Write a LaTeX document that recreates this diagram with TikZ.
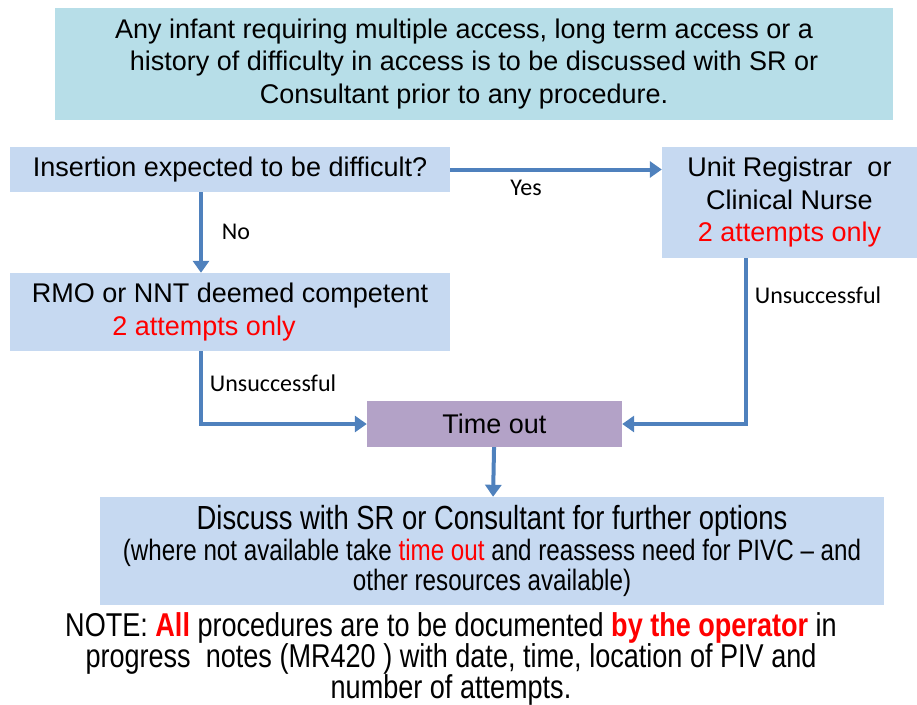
\documentclass[tikz,border=0pt]{standalone}
\usepackage{fontspec}
\setmainfont{Liberation Sans}
\newfontfamily\labelfont{Carlito}
\newfontfamily\narrowfont[FakeStretch=0.82]{Liberation Sans}
\usetikzlibrary{arrows.meta}
\definecolor{boxblue}{HTML}{C6D9F1}
\definecolor{boxaqua}{HTML}{B7DEE8}
\definecolor{boxpurple}{HTML}{B3A2C7}
\definecolor{arrowblue}{HTML}{4F81BD}
\definecolor{notered}{HTML}{FF0000}

\begin{document}
\begin{tikzpicture}[
    x=1pt, y=-1pt,
    box/.style={rectangle, fill=boxblue, inner sep=0pt, align=center,
        font=\fontsize{27}{32.5}\selectfont},
    arrow/.style={-{Triangle[width=16pt,length=12pt]}, line width=4pt, arrowblue},
    lbl/.style={font=\labelfont\fontsize{24}{28}\selectfont, inner sep=0pt}
]
\useasboundingbox (0,0) rectangle (917,704);

% Nodes
\node (intro) [box, fill=boxaqua, minimum width=838, minimum height=112] at (474,64)
    {Any infant requiring multiple access, long term access or a\hspace*{20pt}\\
    history of difficulty in access is to be discussed with SR or\\
    Consultant prior to any procedure.\hspace*{20pt}};

\node (insert) [box, minimum width=440, minimum height=45] at (230,169.5)
    {Insertion expected to be difficult?};

\node (unit) [box, minimum width=255, minimum height=111] at (789.5,202.5)
    {Unit Registrar~~or\\Clinical Nurse\\\textcolor{notered}{2 attempts only}};

\node (rmo) [box, minimum width=440, minimum height=78] at (230,312)
    {RMO or NNT deemed competent\\
    \textcolor{notered}{2 attempts only}\hspace*{52pt}};

\node (tout) [box, fill=boxpurple, minimum width=255, minimum height=46] at (494.5,424)
    {Time out};

\node (discuss) [box, minimum width=784, minimum height=108, font=\narrowfont\fontsize{29.5}{30.5}\selectfont] at (492,551)
    {{\fontsize{33.4}{30.5}\selectfont Discuss with SR or Consultant for further options}\\
    (where not available take \textcolor{notered}{time out} and reassess need for PIVC \textendash{} and\\
    other resources available)};

\node (note) [align=center, inner sep=0pt, font=\narrowfont\fontsize{33}{31}\selectfont] at (451,659)
    {NOTE: \textcolor{notered}{\bfseries All} procedures are to be documented \textcolor{notered}{\bfseries by the operator} in\\
    progress~~notes (MR420 ) with date, time, location of PIV and\\
    number of attempts.};

% Arrows
\draw [arrow] (insert.east) -- (insert.east -| unit.west);
\draw [arrow] ([xshift=-29]insert.south) -- ([xshift=-29]rmo.north);
\draw [arrow] ([xshift=-29]rmo.south) |- (tout.west);
\draw [arrow] ([xshift=-43.5]unit.south) |- (tout.east);
\draw [arrow] (tout) -- (discuss);

% Labels
\node (yes) [lbl] at (526,188) {Yes};
\node (no) [lbl] at (236,232) {No};
\node (failL) [lbl] at (273,383) {Unsuccessful};
\node (failR) [lbl] at (818,295) {Unsuccessful};

\end{tikzpicture}
\end{document}
